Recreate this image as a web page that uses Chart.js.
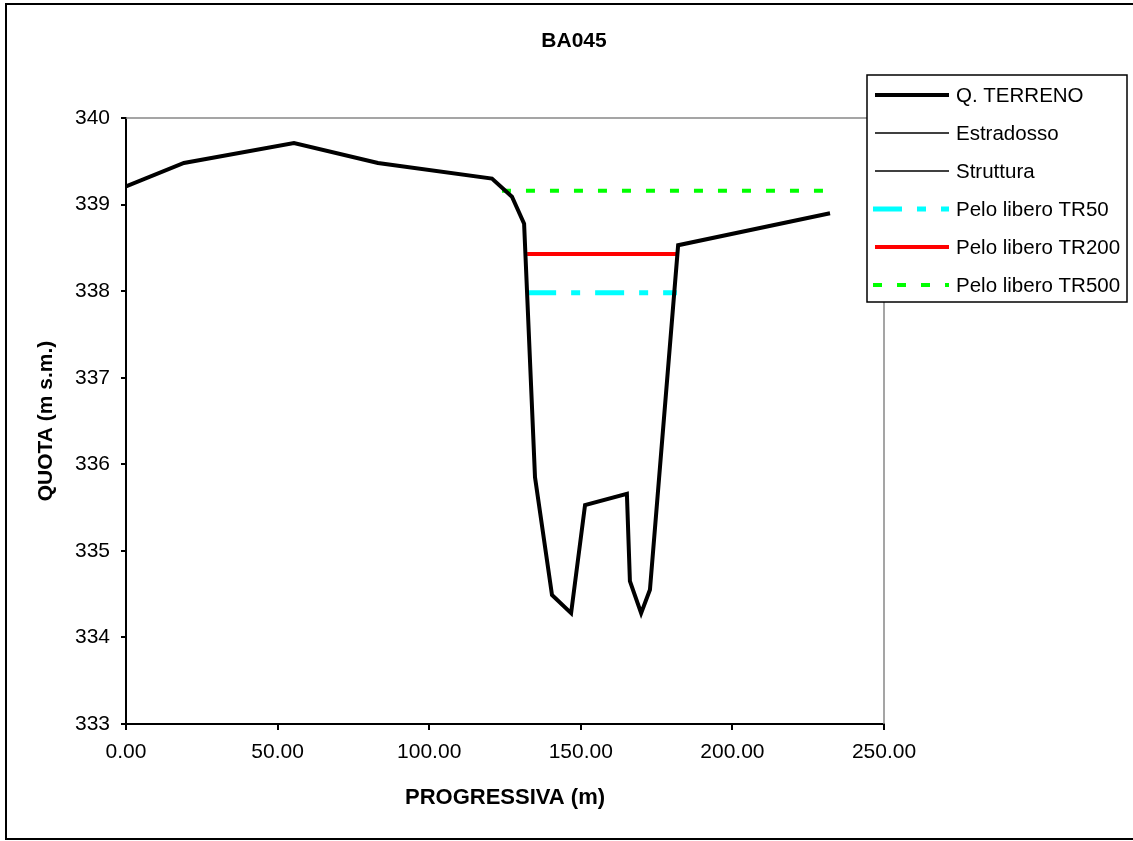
<!DOCTYPE html>
<html>
<head>
<meta charset="utf-8">
<script src="https://cdn.jsdelivr.net/npm/chart.js@4"></script>
<style>
html,body{margin:0;padding:0;background:#fff;}
#wrap{width:1133px;height:841px;position:relative;}
</style>
</head>
<body>
<div id="wrap"><canvas id="chart"></canvas></div>
<script>
// data
const terrenoX=[0,19.1,55.4,83.1,120.7,127.3,131.3,134.9,140.5,146.8,151.4,165.2,166.2,169.9,172.8,182.1,232.2];
const terrenoY=[339.21,339.48,339.71,339.48,339.30,339.09,338.78,335.85,334.49,334.28,335.53,335.66,334.65,334.28,334.55,338.53,338.90];
const tr50X=[132.3,181.7], tr50Y=[337.98,337.98];
const tr200X=[132.3,181.7], tr200Y=[338.43,338.43];
const tr500X=[124.0,231.5], tr500Y=[339.16,339.16];
const yTicks=[333,334,335,336,337,338,339,340];
const xTicks=[0,50,100,150,200,250];
const title="BA045";

const pts=(xs,ys)=>xs.map((x,i)=>({x,y:ys[i]}));
const FONT="'Liberation Sans', Arial, sans-serif";

// title, legend box and outer frame
const extras={id:"extras",afterDraw(c){
  const ctx=c.ctx, a=c.chartArea;
  ctx.save();
  // plot border top / right (grey)
  ctx.strokeStyle="#888"; ctx.lineWidth=1.5;
  ctx.beginPath(); ctx.moveTo(a.left,a.top); ctx.lineTo(a.right,a.top); ctx.lineTo(a.right,a.bottom); ctx.stroke();
  // outer frame
  ctx.strokeStyle="#000"; ctx.lineWidth=2;
  ctx.beginPath(); ctx.moveTo(1133,4); ctx.lineTo(6,4); ctx.lineTo(6,839); ctx.lineTo(1133,839); ctx.stroke();
  // title
  ctx.fillStyle="#000"; ctx.font="bold 21px "+FONT; ctx.textAlign="center"; ctx.textBaseline="middle";
  ctx.fillText(title,574,41);
  // legend
  ctx.fillStyle="#fff"; ctx.fillRect(867,75,260,227);
  ctx.strokeStyle="#000"; ctx.lineWidth=1.5; ctx.strokeRect(867,75,260,227);
  ctx.font="20.5px "+FONT; ctx.textAlign="left";
  c.data.datasets.forEach((d,i)=>{
    const y=95+i*38;
    ctx.strokeStyle=d.borderColor; ctx.lineWidth=d.borderWidth; ctx.setLineDash(d.borderDash||[]);
    ctx.beginPath(); ctx.moveTo(d.legendX0||875,y); ctx.lineTo(949,y); ctx.stroke();
    ctx.setLineDash([]);
    ctx.fillStyle="#000"; ctx.fillText(d.label,956,y+1);
  });
  ctx.restore();
}};

new Chart(document.getElementById("chart"),{
  type:"scatter",
  data:{datasets:[
    {label:"Q. TERRENO",data:pts(terrenoX,terrenoY),showLine:true,borderColor:"#000",borderWidth:4,pointRadius:0,tension:0},
    {label:"Estradosso",data:[],showLine:true,borderColor:"#000",borderWidth:1.5,pointRadius:0},
    {label:"Struttura",data:[],showLine:true,borderColor:"#000",borderWidth:1.5,pointRadius:0},
    {label:"Pelo libero TR50",data:pts(tr50X,tr50Y),showLine:true,borderColor:"#00ffff",borderWidth:5,borderDash:[29,15,9,15],pointRadius:0,legendX0:873},
    {label:"Pelo libero TR200",data:pts(tr200X,tr200Y),showLine:true,borderColor:"#ff0000",borderWidth:4,pointRadius:0},
    {label:"Pelo libero TR500",data:pts(tr500X,tr500Y),showLine:true,borderColor:"#00ff00",borderWidth:4,borderDash:[9,15],pointRadius:0,legendX0:873}
  ]},
  options:{
    responsive:true,maintainAspectRatio:false,animation:false,
    layout:{padding:{left:10,right:249,top:118,bottom:18}},
    plugins:{legend:{display:false},title:{display:false},tooltip:{enabled:false}},
    scales:{
      x:{type:"linear",min:0,max:250,
        afterBuildTicks:s=>{s.ticks=xTicks.map(v=>({value:v}));},
        afterFit:s=>{s.height=99;},
        ticks:{callback:v=>v.toFixed(2),color:"#000",font:{family:FONT,size:21},padding:10,maxRotation:0},
        grid:{drawOnChartArea:false,drawTicks:true,tickLength:6,color:"#000",lineWidth:2},
        border:{color:"#000",width:2},
        title:{display:true,text:"PROGRESSIVA (m)",color:"#000",font:{family:FONT,size:22,weight:"bold"},padding:{top:0,bottom:12}}
      },
      y:{type:"linear",min:333,max:340,
        afterBuildTicks:s=>{s.ticks=yTicks.map(v=>({value:v}));},
        afterFit:s=>{s.width=116;},
        ticks:{color:"#000",font:{family:FONT,size:21},padding:11},
        grid:{drawOnChartArea:false,drawTicks:true,tickLength:5,color:"#000",lineWidth:2},
        border:{color:"#000",width:2},
        title:{display:true,text:"QUOTA (m s.m.)",color:"#000",font:{family:FONT,size:21,weight:"bold"},padding:{top:24,bottom:0}}
      }
    }
  },
  plugins:[extras]
});
</script>
</body>
</html>
